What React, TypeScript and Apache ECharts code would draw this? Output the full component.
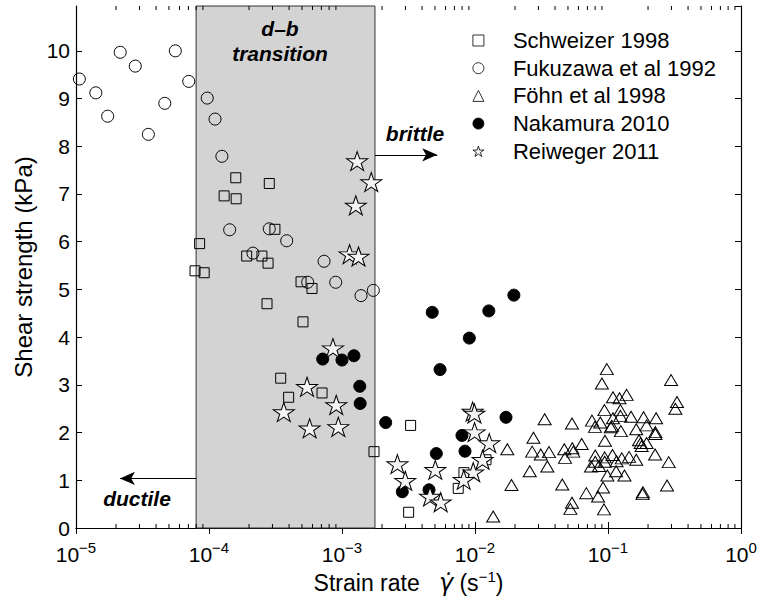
import React, { useEffect, useRef } from 'react';
import * as echarts from 'echarts';

const FONT = 'Liberation Sans, Arial, Helvetica, sans-serif';

const X_MIN = 1e-5;
const X_MAX = 1;
const Y_MIN = 0;
const Y_MAX = 10.94;
const Y_INTERVAL = 1;

// minor tick positions of the log axis (2..9 x each decade)
const minorMultipliers = [2, 3, 4, 5, 6, 7, 8, 9];
const minorDecades = [1e-5, 1e-4, 1e-3, 1e-2, 1e-1];

// ductile-brittle transition band (strain rate, s^-1)
const transitionRange = [8.0e-5, 1.77e-3];
const brittleArrow = { y: 7.82, from: 1.77e-3, to: 5.2e-3 };
const ductileArrow = { y: 1.04, from: 8.0e-5, to: 2.14e-5 };

const seriesNames = ['Schweizer 1998', 'Fukuzawa et al 1992', 'Föhn et al 1998', 'Nakamura 2010', 'Reiweger 2011'];

const schweizer: [number, number][] = [
  [8.5e-5, 5.96], [7.85e-5, 5.39], [9.2e-5, 5.35], [1.30e-4, 6.96], [1.59e-4, 7.34], [1.60e-4, 6.90],
  [1.92e-4, 5.70], [2.50e-4, 5.70], [2.78e-4, 5.55], [2.84e-4, 7.22], [3.13e-4, 6.26], [2.73e-4, 4.70],
  [4.92e-4, 5.16], [5.95e-4, 5.02], [5.09e-4, 4.32], [3.46e-4, 3.14], [3.97e-4, 2.74], [7.08e-4, 2.83],
  [1.74e-3, 1.60], [3.28e-3, 2.15], [3.17e-3, 0.33], [7.48e-3, 0.83], [8.26e-3, 1.16], [1.21e-2, 1.43],
];

const fukuzawa: [number, number][] = [
  [1.06e-5, 9.41], [1.41e-5, 9.12], [1.73e-5, 8.63], [2.15e-5, 9.97], [2.79e-5, 9.68], [3.50e-5, 8.25],
  [4.65e-5, 8.90], [5.58e-5, 10.0], [7.04e-5, 9.36], [9.7e-5, 9.01], [1.11e-4, 8.57], [1.25e-4, 7.79],
  [1.43e-4, 6.25], [2.84e-4, 6.27], [3.84e-4, 6.02], [2.14e-4, 5.76], [7.33e-4, 5.59], [5.52e-4, 5.15],
  [8.97e-4, 5.15], [1.39e-3, 4.87], [1.72e-3, 4.98],
];

const fohn: [number, number][] = [
  [1.37e-2, 0.24], [1.75e-2, 1.65], [1.88e-2, 0.90], [2.75e-2, 1.89], [2.69e-2, 1.60], [2.58e-2, 1.19],
  [0.098, 3.33], [0.298, 3.10], [0.090, 3.03], [0.138, 2.79], [0.109, 2.74], [0.122, 2.72],
  [0.330, 2.64], [0.321, 2.50], [0.094, 2.47], [0.124, 2.47], [0.124, 2.35], [0.149, 2.33],
  [0.185, 2.32], [0.230, 2.30], [0.0334, 2.28], [0.0536, 2.19], [0.0758, 2.25], [0.0798, 2.12],
  [0.0875, 2.21], [0.105, 2.11], [0.109, 2.30], [0.195, 2.15], [0.163, 2.07], [0.125, 2.03],
  [0.227, 2.01], [0.227, 1.97], [0.0948, 1.83], [0.171, 1.84], [0.176, 1.78], [0.179, 1.72],
  [0.0634, 1.76], [0.0539, 1.67], [0.0469, 1.65], [0.0312, 1.54], [0.0360, 1.59], [0.0475, 1.47],
  [0.0548, 1.60], [0.0802, 1.52], [0.0944, 1.48], [0.108, 1.53], [0.127, 1.46], [0.144, 1.49],
  [0.163, 1.43], [0.226, 1.54], [0.286, 1.38], [0.0745, 1.29], [0.0855, 1.30], [0.115, 1.19],
  [0.133, 1.10], [0.0989, 1.10], [0.0350, 1.29], [0.0453, 0.91], [0.0917, 0.85], [0.0687, 0.73],
  [0.0842, 0.66], [0.183, 0.75], [0.182, 0.71], [0.278, 0.89], [0.0536, 0.53], [0.0521, 0.40],
  [0.0933, 0.39], [0.107, 2.14], [0.0802, 1.39], [0.116, 1.40], [0.0944, 1.39], [0.195, 1.78],
];

const nakamura: [number, number][] = [
  [7.16e-4, 3.54], [1.0e-3, 3.52], [1.23e-3, 3.61], [1.36e-3, 2.97], [1.37e-3, 2.61], [2.13e-3, 2.21],
  [4.77e-3, 4.52], [1.27e-2, 4.55], [1.96e-2, 4.88], [9.06e-3, 3.98], [5.46e-3, 3.32], [1.71e-2, 2.32],
  [7.98e-3, 1.94], [8.41e-3, 1.61], [5.12e-3, 1.56], [2.84e-3, 0.76], [4.51e-3, 0.80],
];

const reiweger: [number, number][] = [
  [1.30e-3, 7.69], [1.66e-3, 7.25], [1.27e-3, 6.76], [1.14e-3, 5.74], [1.33e-3, 5.69], [8.55e-4, 3.77],
  [5.46e-4, 2.96], [9.05e-4, 2.58], [3.65e-4, 2.43], [5.71e-4, 2.09], [9.38e-4, 2.12], [9.59e-3, 2.44],
  [9.9e-3, 2.40], [9.93e-3, 2.01], [1.28e-2, 1.78], [2.61e-3, 1.34], [5.03e-3, 1.22], [1.14e-2, 1.43],
  [2.99e-3, 0.99], [9.7e-3, 1.17], [8.22e-3, 1.01], [4.59e-3, 0.66], [5.52e-3, 0.54],
];

const STAR =
  'path://M0,-10L2.245,-3.09L9.511,-3.09L3.633,1.18L5.878,8.09L0,3.82L-5.878,8.09L-3.633,1.18L-9.511,-3.09L-2.245,-3.09Z';

export default function App() {
  const ref = useRef<HTMLDivElement>(null);

  useEffect(() => {
    if (!ref.current) return;
    const chart = echarts.init(ref.current, undefined, { renderer: 'svg' });

    const minorTicks: [number, number][] = [];
    minorDecades.forEach((d) => minorMultipliers.forEach((m) => minorTicks.push([m * d, 0])));

    const axisLine = { show: true, lineStyle: { color: '#000', width: 1.2 } };
    const tick = { show: true, inside: true, length: 6, lineStyle: { color: '#000', width: 1 } };

    const scatterBase = (name: string, data: [number, number][], symbol: string, size: any, fill: string) => ({
      name,
      type: 'scatter',
      data,
      symbol,
      symbolSize: size,
      z: 3,
      itemStyle: { color: fill, borderColor: '#000', borderWidth: 1, opacity: 1 },
      emphasis: { disabled: true },
    });

    const xLabelFormatter = (v: number) => {
      const e = Math.round(Math.log10(v));
      return `{b|10}{s|${e < 0 ? '\u2212' + -e : e}}`;
    };

    chart.setOption({
      animation: false,
      textStyle: { fontFamily: FONT },
      grid: { left: 76, top: 6, right: 19, bottom: 75, containLabel: false, outerBoundsMode: 'none' },
      legend: {
        data: seriesNames,
        orient: 'vertical',
        left: 472.5,
        top: 29.5,
        padding: 0,
        itemWidth: 11,
        itemHeight: 11,
        itemGap: 5.7,
        selectedMode: false,
        itemStyle: { borderWidth: 0.8 },
        textStyle: { fontSize: 22, fontFamily: FONT, color: '#000', lineHeight: 22, padding: [0, 0, 0, 24] },
      },
      xAxis: [
        {
          type: 'log',
          logBase: 10,
          min: X_MIN,
          max: X_MAX,
          position: 'bottom',
          axisLine,
          axisTick: tick,
          splitLine: { show: false },
          minorTick: { show: false },
          axisLabel: {
            formatter: xLabelFormatter,
            margin: 12,
            color: '#000',
            rich: {
              b: { fontSize: 21, fontFamily: FONT, color: '#000', lineHeight: 28 },
              s: { fontSize: 15, fontFamily: FONT, color: '#000', lineHeight: 10, verticalAlign: 'top' },
            },
          },
          name: '{a|Strain rate   }{g|\u03B3\u0307}{a| (s}{s|\u22121}{a|)}',
          nameLocation: 'middle',
          nameGap: 38,
          nameTextStyle: {
            rich: {
              a: { fontSize: 23, fontFamily: FONT, color: '#000', lineHeight: 28 },
              g: { fontSize: 24, fontFamily: 'DejaVu Sans', fontStyle: 'italic', color: '#000', lineHeight: 28 },
              s: { fontSize: 15, fontFamily: FONT, color: '#000', lineHeight: 12, verticalAlign: 'top' },
            },
          },
        },
        {
          type: 'log',
          logBase: 10,
          min: X_MIN,
          max: X_MAX,
          position: 'top',
          axisLine,
          axisTick: tick,
          splitLine: { show: false },
          axisLabel: { show: false },
        },
      ],
      yAxis: [
        {
          type: 'value',
          min: Y_MIN,
          max: Y_MAX,
          interval: Y_INTERVAL,
          position: 'left',
          axisLine,
          axisTick: tick,
          splitLine: { show: false },
          axisLabel: {
            fontSize: 21,
            fontFamily: FONT,
            color: '#000',
            margin: 6,
            showMaxLabel: false,
            formatter: (v: number) => (Math.abs(v - Math.round(v)) < 1e-6 ? String(Math.round(v)) : ''),
          },
          name: 'Shear strength (kPa)',
          nameLocation: 'middle',
          nameRotate: 90,
          nameGap: 38,
          nameTextStyle: { fontSize: 24, fontFamily: FONT, color: '#000' },
        },
        {
          type: 'value',
          min: Y_MIN,
          max: Y_MAX,
          interval: Y_INTERVAL,
          position: 'right',
          axisLine,
          axisTick: tick,
          splitLine: { show: false },
          axisLabel: { show: false },
        },
      ],
      series: [
        {
          type: 'custom',
          name: 'minor ticks',
          silent: true,
          z: 1,
          data: minorTicks,
          encode: { x: 0, y: 1 },
          renderItem: (_p: any, api: any) => {
            const x = api.value(0);
            const b = api.coord([x, Y_MIN]);
            const t = api.coord([x, Y_MAX]);
            const st = { stroke: '#000', lineWidth: 1 };
            return {
              type: 'group',
              children: [
                { type: 'line', shape: { x1: b[0], y1: b[1], x2: b[0], y2: b[1] - 4 }, style: st },
                { type: 'line', shape: { x1: t[0], y1: t[1], x2: t[0], y2: t[1] + 4 }, style: st },
              ],
            };
          },
        },
        {
          type: 'scatter',
          name: 'transition',
          data: [],
          z: 2,
          silent: true,
          markArea: {
            silent: true,
            itemStyle: { color: '#d3d3d3', borderColor: '#333', borderWidth: 1 },
            label: { show: false },
            data: [[{ xAxis: transitionRange[0] }, { xAxis: transitionRange[1] }]],
          },
          markLine: {
            silent: true,
            symbol: ['none', 'arrow'],
            symbolSize: [10, 15],
            label: { show: false },
            lineStyle: { color: '#000', width: 1, type: 'solid' },
            emphasis: { disabled: true },
            data: [
              [{ coord: [brittleArrow.from, brittleArrow.y] }, { coord: [brittleArrow.to, brittleArrow.y] }],
              [{ coord: [ductileArrow.from, ductileArrow.y] }, { coord: [ductileArrow.to, ductileArrow.y] }],
            ],
          },
        },
        scatterBase(seriesNames[0], schweizer, 'rect', 10, 'rgba(0,0,0,0)'),
        scatterBase(seriesNames[1], fukuzawa, 'circle', 12, 'rgba(0,0,0,0)'),
        scatterBase(seriesNames[2], fohn, 'triangle', [13, 11], 'rgba(0,0,0,0)'),
        scatterBase(seriesNames[3], nakamura, 'circle', 12, '#000'),
        scatterBase(seriesNames[4], reiweger, STAR, [21, 19], '#f4f4f4'),
      ],
      graphic: [
        {
          type: 'text',
          x: 280,
          y: 28,
          style: { text: 'd\u2013b', font: `italic bold 21px ${FONT}`, fill: '#000', align: 'center', verticalAlign: 'middle' },
          z: 10,
        },
        {
          type: 'text',
          x: 280,
          y: 53,
          style: { text: 'transition', font: `italic bold 21px ${FONT}`, fill: '#000', align: 'center', verticalAlign: 'middle' },
          z: 10,
        },
        {
          type: 'text',
          x: 415,
          y: 133,
          style: { text: 'brittle', font: `italic bold 21px ${FONT}`, fill: '#000', align: 'center', verticalAlign: 'middle' },
          z: 10,
        },
        {
          type: 'text',
          x: 137,
          y: 498,
          style: { text: 'ductile', font: `italic bold 21px ${FONT}`, fill: '#000', align: 'center', verticalAlign: 'middle' },
          z: 10,
        },
      ],
    });

    return () => chart.dispose();
  }, []);

  return (
    <div
      ref={ref}
      style={{ position: 'fixed', left: 0, top: 0, width: 760, height: 603, background: '#fff' }}
    />
  );
}
